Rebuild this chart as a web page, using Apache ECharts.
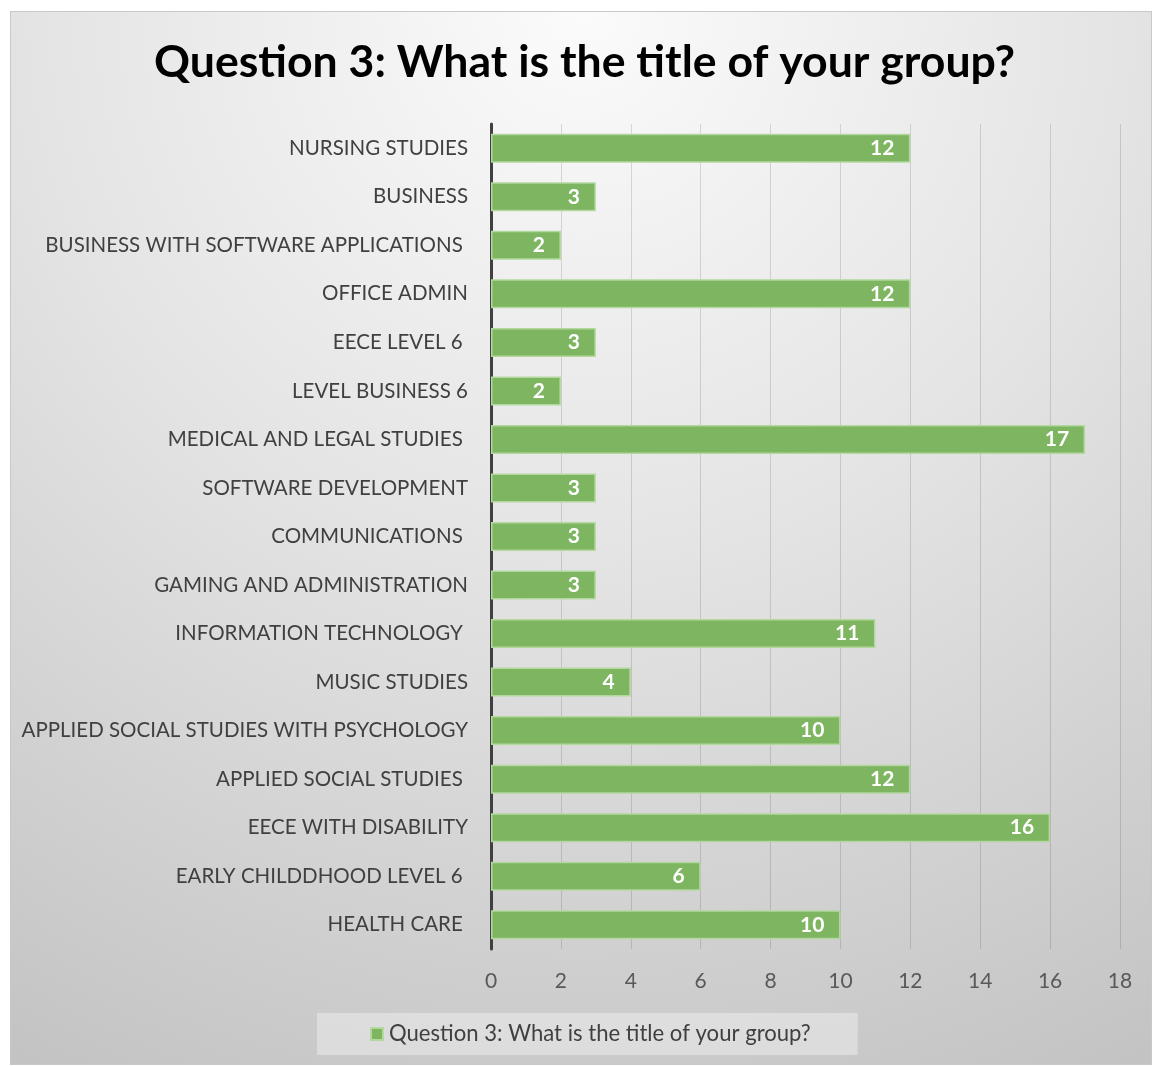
<!DOCTYPE html>
<html>
<head>
<meta charset="utf-8">
<script src="https://cdn.jsdelivr.net/npm/echarts@6/dist/echarts.min.js"></script>
<style>
  html, body { margin: 0; padding: 0; background: #ffffff; }
  #chart {
    position: absolute; left: 10px; top: 11px;
    width: 1142px; height: 1054px;
    box-sizing: border-box;
    border: 1px solid #c8c8c8;
  }
</style>
</head>
<body>
<div id="chart"></div>
<script>
// Group titles, listed top to bottom
const categories = [
  'NURSING STUDIES',
  'BUSINESS',
  'BUSINESS WITH SOFTWARE APPLICATIONS ',
  'OFFICE ADMIN',
  'EECE LEVEL 6 ',
  'LEVEL BUSINESS 6',
  'MEDICAL AND LEGAL STUDIES ',
  'SOFTWARE DEVELOPMENT',
  'COMMUNICATIONS ',
  'GAMING AND ADMINISTRATION',
  'INFORMATION TECHNOLOGY ',
  'MUSIC STUDIES',
  'APPLIED SOCIAL STUDIES WITH PSYCHOLOGY',
  'APPLIED SOCIAL STUDIES ',
  'EECE WITH DISABILITY',
  'EARLY CHILDDHOOD LEVEL 6 ',
  'HEALTH CARE '
];

// Number of responses per group
const responses = [12, 3, 2, 12, 3, 2, 17, 3, 3, 3, 11, 4, 10, 12, 16, 6, 10];

const seriesName = 'Question 3: What is the title of your group?';
const chartTitle = 'Question 3: What is the title of your group?';

const FONT = 'Lato, "Open Sans", sans-serif';

const chart = echarts.init(document.getElementById('chart'), null, { renderer: 'canvas' });

chart.setOption({
  backgroundColor: {
    type: 'radial', x: 0.5, y: 0, r: 1.15,
    colorStops: [
      { offset: 0, color: '#fbfbfb' },
      { offset: 0.45, color: '#e4e4e4' },
      { offset: 1, color: '#c2c2c2' }
    ]
  },
  animation: false,
  title: {
    text: chartTitle,
    left: 138,
    top: 23,
    textStyle: { fontFamily: FONT, fontWeight: 'bold', fontSize: 44.6, color: '#000000' }
  },
  legend: {
    data: [seriesName],
    left: 306,
    top: 1001,
    padding: [10, 47, 10, 53],
    backgroundColor: 'rgba(255,255,255,0.35)',
    icon: 'rect',
    itemWidth: 12,
    itemHeight: 12,
    itemGap: 0,
    textStyle: { fontFamily: FONT, fontSize: 22.1, color: '#404040', padding: [0, 0, 0, 1] }
  },
  grid: { left: 480, right: 31, top: 112, bottom: 115, containLabel: false },
  xAxis: {
    type: 'value',
    min: 0, max: 18, interval: 2,
    axisLine: { show: false },
    axisTick: { show: false },
    splitLine: { show: true, lineStyle: { color: 'rgba(0,0,0,0.13)', width: 1 } },
    axisLabel: { fontFamily: FONT, fontSize: 21, color: '#595959', margin: 22 }
  },
  yAxis: {
    type: 'category',
    data: categories,
    inverse: true,
    axisLine: { show: true, lineStyle: { color: '#404040', width: 3 } },
    axisTick: { show: false },
    axisLabel: { fontFamily: FONT, fontSize: 20.5, color: '#404040', margin: 23 }
  },
  series: [{
    name: seriesName,
    type: 'bar',
    data: responses,
    barWidth: 29,
    itemStyle: { color: '#7db560', borderColor: '#b3d89e', borderWidth: 1.5 },
    label: {
      show: true,
      position: 'insideRight',
      distance: 16,
      fontFamily: FONT,
      fontWeight: 'bold',
      fontSize: 21,
      color: '#ffffff'
    },
    z: 3
  }]
});
</script>
</body>
</html>
